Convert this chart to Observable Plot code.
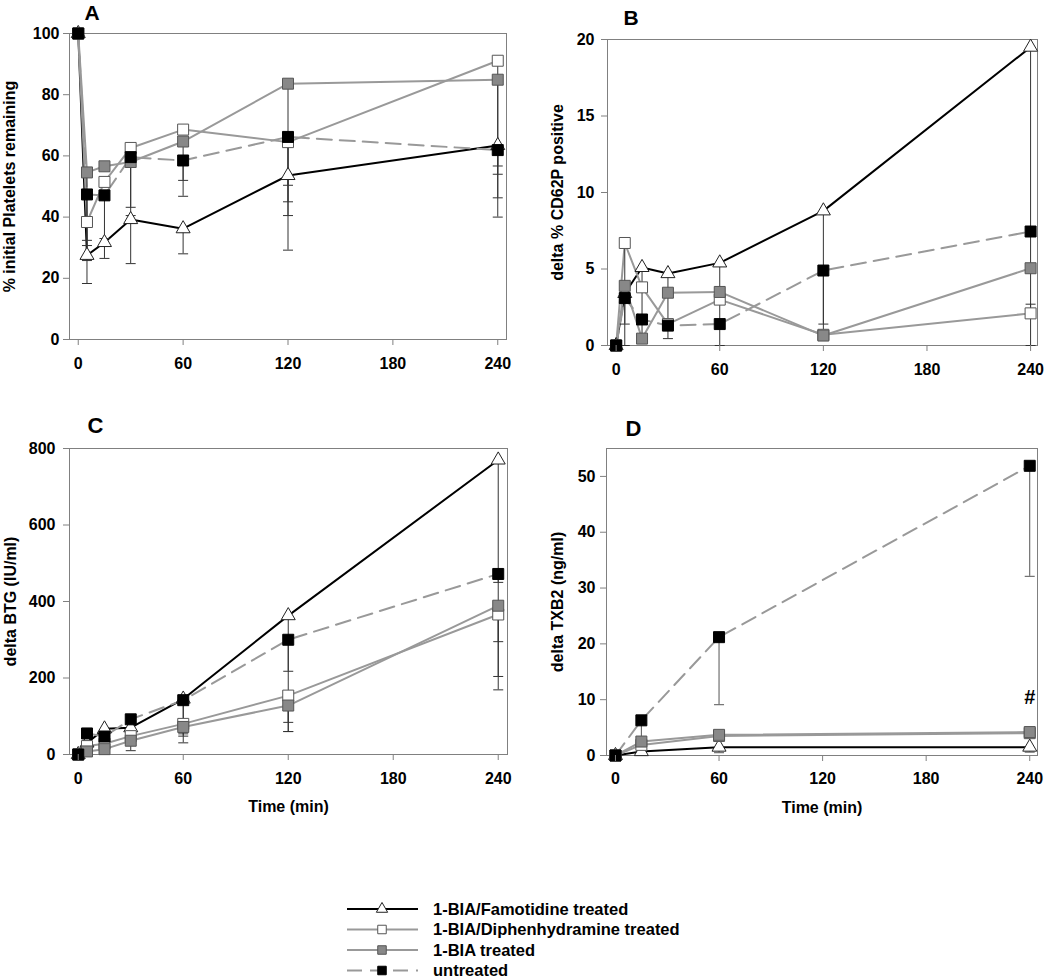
<!DOCTYPE html>
<html>
<head>
<meta charset="utf-8">
<script src="https://cdn.jsdelivr.net/npm/d3@7"></script>
<script src="https://cdn.jsdelivr.net/npm/@observablehq/plot@0.6"></script>
<style>
  body { margin: 0; background: #fff; }
  #wrap { position: relative; width: 1050px; height: 979px; background: #fff; font-family: 'Liberation Sans', Arial, sans-serif; overflow: hidden; }
  .panel { position: absolute; }
  .panel svg { max-width: none !important; }
</style>
</head>
<body>
<div id="wrap">
  <div class="panel" id="pA" style="left:0px;top:0px;width:520px;height:400px"></div>
  <div class="panel" id="pB" style="left:520px;top:0px;width:530px;height:400px"></div>
  <div class="panel" id="pC" style="left:0px;top:400px;width:520px;height:420px"></div>
  <div class="panel" id="pD" style="left:520px;top:400px;width:530px;height:420px"></div>
  <div id="legend" style="position:absolute;left:340px;top:895px;width:420px;height:84px"></div>
</div>
<script>
// ---------------- DATA ----------------
const seriesNames = ["1-BIA/Famotidine treated", "1-BIA/Diphenhydramine treated", "1-BIA treated", "untreated"];
const timesABC = [0, 5, 15, 30, 60, 120, 240];
const timesD = [0, 15, 60, 240];
const xTicks = [0, 60, 120, 180, 240];

// Panel A: % initial Platelets remaining (mean, and error-bar end)
const aFamotidine      = [100, 27.5, 31.7, 39.2, 36.2, 53.6, 63.4];
const aDiphenhydramine = [100, 38.4, 51.5, 62.6, 68.6, 64.5, 91.1];
const aBIA             = [100, 54.6, 56.6, 58.0, 64.7, 83.6, 84.9];
const aUntreated       = [100, 47.4, 47.1, 59.6, 58.5, 66.2, 61.9];
const aFamotidineErr      = [null, 18.3, 26.5, 24.8, 28.0, 29.2, 54.0];
const aDiphenhydramineErr = [null, 25.8, null, null, null, 50.4, 40.0];
const aBIAErr             = [null, 32.4, null, 40.5, 52.0, 40.5, 46.3];
const aUntreatedErr       = [null, 30.7, 33.0, 43.2, 46.8, 45.0, 56.7];
const aTicks = [0, 20, 40, 60, 80, 100];

// Panel B: delta % CD62P positive
const bFamotidine      = [0, 3.4, 5.1, 4.7, 5.4, 8.8, 19.5];
const bDiphenhydramine = [0, 6.7, 3.8, 1.4, 3.0, 0.7, 2.1];
const bBIA             = [0, 3.9, 0.45, 3.45, 3.5, 0.65, 5.05];
const bUntreated       = [0, 3.1, 1.7, 1.3, 1.4, 4.9, 7.45];
const bFamotidineErr      = [null, null, 0.3, 0.45, 0, 0.6, 0];
const bDiphenhydramineErr = [null, 0, null, null, null, null, 2.7];
const bBIAErr             = [null, null, null, null, null, null, null];
const bUntreatedErr       = [null, 1.4, null, null, null, 1.4, null];
const bTicks = [0, 5, 10, 15, 20];

// Panel C: delta BTG (IU/ml)
const cFamotidine      = [0, 30, 67, 70, 145, 363, 770];
const cDiphenhydramine = [0, 22, 28, 48, 80, 154, 366];
const cBIA             = [0, 8, 14, 36, 72, 128, 389];
const cUntreated       = [0, 55, 47, 92, 142, 300, 472];
const cFamotidineErr      = [null, null, null, null, 30.5, 60, 169];
const cDiphenhydramineErr = [null, null, null, null, 54, 84, 295];
const cBIAErr             = [null, null, null, null, 48, 60, 204];
const cUntreatedErr       = [null, null, 6, 10, 63, 217.6, 450];
const cTicks = [0, 200, 400, 600, 800];

// Panel D: delta TXB2 (ng/ml)
const dFamotidine      = [0, 0.7, 1.5, 1.5];
const dDiphenhydramine = [0, 1.9, 3.5, 4.0];
const dBIA             = [0, 2.5, 3.7, 4.2];
const dUntreated       = [0, 6.3, 21.2, 51.9];
const dFamotidineErr      = [null, null, 0.5, 0.6];
const dDiphenhydramineErr = [null, null, null, 3.1];
const dBIAErr             = [null, null, null, null];
const dUntreatedErr       = [null, 2.5, 9.1, 32.1];
const dTicks = [0, 10, 20, 30, 40, 50];
const dAnnotations = [{t: 240, v: 10.4, label: "#"}];

// ---------------- STYLES ----------------
const styles = {
  "1-BIA/Famotidine treated":      {line: "#000", width: 2,   dash: null,   symbol: "triangle", fill: "#fff", mstroke: "#222", r: 5.2},
  "1-BIA/Diphenhydramine treated": {line: "#999", width: 2,   dash: null,   symbol: "square",   fill: "#fff", mstroke: "#555", r: 6.2},
  "1-BIA treated":                 {line: "#999", width: 2,   dash: null,   symbol: "square",   fill: "#888", mstroke: "#555", r: 6.2},
  "untreated":                     {line: "#999", width: 2,   dash: "15,8", symbol: "square",   fill: "#000", mstroke: "#000", r: 6.2}
};
const capSymbol = { draw(ctx) { ctx.moveTo(-5, 0); ctx.lineTo(5, 0); } };
const FONT = "'Liberation Sans', Arial, sans-serif";

function rows(times, vals, errs) {
  return times.map((t, i) => ({t, v: vals[i], e: errs[i]}));
}

function panel(cfg) {
  const [mt, mr, mb, ml] = cfg.margins;
  const marks = [Plot.frame({stroke: "#808080", strokeWidth: 1})];
  const series = seriesNames.map((name, k) => ({name, data: rows(cfg.times, cfg.values[k], cfg.errs[k])}));
  for (const s of series) {
    const st = styles[s.name];
    marks.push(Plot.line(s.data, {x: "t", y: "v", stroke: st.line, strokeWidth: cfg.lineWidth || st.width, strokeDasharray: st.dash}));
  }
  for (const s of series) {
    const withErr = s.data.filter(d => d.e != null);
    marks.push(Plot.ruleX(withErr, {x: "t", y1: "v", y2: "e", stroke: cfg.errColor, strokeWidth: 1}));
    marks.push(Plot.dot(withErr, {x: "t", y: "e", symbol: capSymbol, r: 3, stroke: cfg.errColor, fill: "none", strokeWidth: 1}));
  }
  for (const s of series) {
    const st = styles[s.name];
    marks.push(Plot.dot(s.data, {x: "t", y: "v", symbol: st.symbol, r: st.r, fill: st.fill, stroke: st.mstroke, strokeWidth: 1}));
  }
  marks.push(Plot.axisX(xTicks, {tickSize: 6, tickPadding: cfg.xTickPad, stroke: "#808080", fill: "#000", label: null}));
  marks.push(Plot.axisY(cfg.yTicks, {tickSize: 6, tickPadding: cfg.yTickPad, stroke: "#808080", fill: "#000", label: null}));
  marks.push(Plot.text([cfg.letter], {text: d => d, frameAnchor: "top-left", dx: cfg.letterDx, dy: cfg.letterDy,
    textAnchor: "start", lineAnchor: "bottom", fontSize: cfg.letterSize, fontWeight: "bold", fill: "#000"}));
  marks.push(Plot.text([cfg.yLabel], {text: d => d, frameAnchor: "left", rotate: -90, dx: cfg.yLabelDx,
    textAnchor: "middle", lineAnchor: "middle", fontSize: 16, fontWeight: "bold", fill: "#000"}));
  if (cfg.xLabel) {
    marks.push(Plot.text([cfg.xLabel], {text: d => d, frameAnchor: "bottom", dy: cfg.xLabelDy,
      textAnchor: "middle", lineAnchor: "middle", fontSize: 16, fontWeight: "bold", fill: "#000"}));
  }
  if (cfg.annotations) {
    marks.push(Plot.text(cfg.annotations, {x: "t", y: "v", text: "label", fontSize: 20, fontWeight: "bold", lineAnchor: "middle", fill: "#000"}));
  }
  const chart = Plot.plot({
    width: cfg.width, height: cfg.height,
    marginTop: mt, marginRight: mr, marginBottom: mb, marginLeft: ml,
    x: {domain: cfg.xDomain, label: null},
    y: {domain: cfg.yDomain, label: null},
    style: {background: "transparent", fontFamily: FONT, fontSize: "16px", fontWeight: "bold", color: "#000", overflow: "visible"},
    marks
  });
  document.getElementById(cfg.el).appendChild(chart);
}

panel({el: "pA", letter: "A", width: 520, height: 400, margins: [33, 14, 61, 69], xDomain: [-5, 245], yDomain: [0, 100],
  yTicks: aTicks, yLabel: "% initial Platelets remaining", times: timesABC,
  values: [aFamotidine, aDiphenhydramine, aBIA, aUntreated], errs: [aFamotidineErr, aDiphenhydramineErr, aBIAErr, aUntreatedErr],
  letterDx: 15, letterDy: -13.5, letterSize: 21, yLabelDx: -60, yTickPad: 4, xTickPad: 12, errColor: "#333"});

panel({el: "pB", letter: "B", width: 530, height: 400, margins: [39, 13, 55, 87], xDomain: [-5, 244], yDomain: [0, 20],
  yTicks: bTicks, yLabel: "delta % CD62P positive", times: timesABC,
  values: [bFamotidine, bDiphenhydramine, bBIA, bUntreated], errs: [bFamotidineErr, bDiphenhydramineErr, bBIAErr, bUntreatedErr],
  letterDx: 16, letterDy: -15, letterSize: 21, yLabelDx: -50, yTickPad: 7, xTickPad: 12, errColor: "#333"});

panel({el: "pC", letter: "C", width: 520, height: 420, margins: [48, 13, 66, 69], xDomain: [-5, 245.3], yDomain: [0, 800],
  yTicks: cTicks, yLabel: "delta BTG (IU/ml)", xLabel: "Time (min)", xLabelDy: 52.7, times: timesABC,
  values: [cFamotidine, cDiphenhydramine, cBIA, cUntreated], errs: [cFamotidineErr, cDiphenhydramineErr, cBIAErr, cUntreatedErr],
  letterDx: 18, letterDy: -16, letterSize: 22, yLabelDx: -59, yTickPad: 8, xTickPad: 12, errColor: "#333"});

panel({el: "pD", letter: "D", width: 530, height: 420, margins: [48, 13, 65, 86], xDomain: [-5.2, 244.5], yDomain: [0, 55],
  yTicks: dTicks, yLabel: "delta TXB2 (ng/ml)", xLabel: "Time (min)", xLabelDy: 52, times: timesD,
  values: [dFamotidine, dDiphenhydramine, dBIA, dUntreated], errs: [dFamotidineErr, dDiphenhydramineErr, dBIAErr, dUntreatedErr],
  annotations: dAnnotations,
  letterDx: 19, letterDy: -13, letterSize: 22, yLabelDx: -48.5, yTickPad: 5, xTickPad: 11, errColor: "#555"});

// ---------------- LEGEND ----------------
const leg = d3.select("#legend").append("svg").attr("width", 420).attr("height", 84)
  .style("font-family", FONT).style("font-weight", "bold").style("font-size", "16.5px");
seriesNames.forEach((name, i) => {
  const st = styles[name];
  const g = leg.append("g").attr("transform", `translate(0,${14 + i * 20.5})`);
  g.append("line").attr("x1", 7).attr("x2", 78).attr("y1", 0).attr("y2", 0)
    .attr("stroke", st.line).attr("stroke-width", 2).attr("stroke-dasharray", st.dash);
  const sym = st.symbol === "triangle" ? d3.symbolTriangle : d3.symbolSquare;
  const r = st.symbol === "triangle" ? 4.2 : 4.8;
  g.append("path").attr("transform", "translate(42,0)").attr("d", d3.symbol(sym, Math.PI * r * r)())
    .attr("fill", st.fill).attr("stroke", st.mstroke).attr("stroke-width", 1);
  g.append("text").attr("x", 93).attr("y", 0).attr("dy", "0.35em").attr("fill", "#000").text(name);
});
</script>
</body>
</html>
